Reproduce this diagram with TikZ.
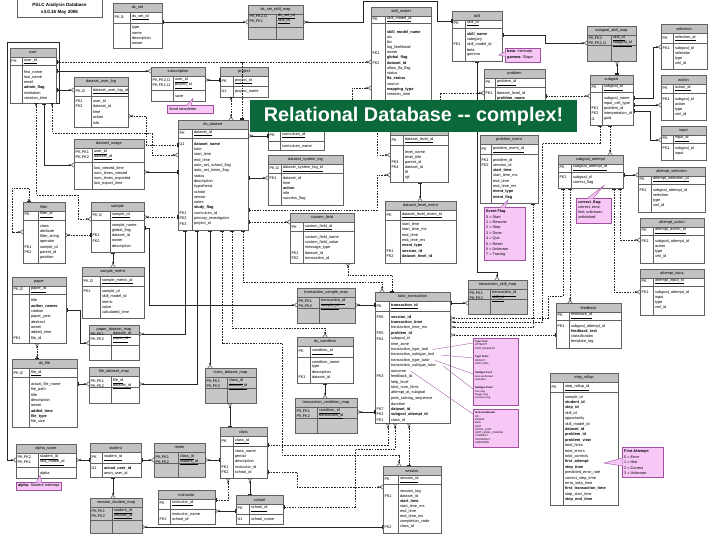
\documentclass[tikz,border=0pt]{standalone}
\usepackage{fontspec}
\setmainfont{Liberation Sans}
\usetikzlibrary{arrows.meta,calc}
\definecolor{hdrg}{gray}{0.76}
\definecolor{mapg}{gray}{0.78}
\definecolor{tlc}{gray}{0.38}
\definecolor{pinkf}{RGB}{247,200,245}
\definecolor{pinkd}{RGB}{160,80,160}
\definecolor{bgreen}{RGB}{10,104,58}
\tikzset{
 tblbody/.style={anchor=north west,inner sep=0pt,outer sep=0pt,draw=none},
 tline/.style={draw=tlc,line width=0.45pt},
 ttl/.style={font=\fontsize{3.9}{4.4}\selectfont,inner sep=0pt},
 txt/.style={font=\fontsize{3.9}{4.4}\selectfont,inner sep=0pt,anchor=west},
 ctxt/.style={font=\fontsize{3.8}{4.2}\selectfont,inner sep=0pt,anchor=west},
 ttxt/.style={font=\fontsize{2.6}{3}\selectfont,inner sep=0pt,anchor=west},
 pinkbox/.style={fill=pinkf,draw=pinkd,line width=0.4pt,anchor=north west,inner sep=0pt},
 conn/.style={draw=black!85,line width=0.4pt},
 dconn/.style={conn,dash pattern=on 1.6pt off 1.1pt},
 onemany/.style={{Bar[width=4pt,sep=0.7pt]Bar[width=4pt]}-{Circle[open,length=2.2pt,width=2.2pt,sep=0.2pt]Straight Barb[reversed,length=2.4pt,width=4.4pt]}},
 zeromany/.style={{Bar[width=4pt,sep=0.5pt]Circle[open,length=2.2pt,width=2.2pt]}-{Circle[open,length=2.2pt,width=2.2pt,sep=0.2pt]Straight Barb[reversed,length=2.4pt,width=4.4pt]}},
 manyone/.style={{Straight Barb[reversed,length=2.4pt,width=4.4pt,sep=0.2pt]Circle[open,length=2.2pt,width=2.2pt]}-{Bar[width=4pt,sep=0.7pt]Bar[width=4pt]}},
 tomany/.style={-{Circle[open,length=2.2pt,width=2.2pt,sep=0.2pt]Straight Barb[reversed,length=2.4pt,width=4.4pt]}},
 fromone/.style={{Bar[width=4pt,sep=0.7pt]Bar[width=4pt]}-},
}
\newcommand\tbl[9]{%
 \def\curx{#2}\def\curk{#6}%
 \node[tblbody,fill=#9,minimum width=#4pt,minimum height=#5pt] (#1) at (#2,#3) {};
 \fill[hdrg] (#2,#3) rectangle ++(#4,9);
 \draw[tline] (#2,#3) rectangle ++(#4,#5);
 \draw[tline] (#2,#3+9) -- ++(#4,0);
 \draw[tline] (#2,#3+#7) -- ++(#4,0);
 \draw[tline] (#2+#6,#3+9) -- (#2+#6,#3+#5);
 \node[ttl] (#1-t) at (#2+#4/2,#3+4.7) {#8};
}
\newcommand\kt[3]{\node[txt] (#1) at (\curx+1.3,#2) {#3};}
\newcommand\fd[3]{\node[txt] (#1) at (\curx+\curk+1.8,#2) {#3};}
\newcommand\rws[4]{\foreach \rowtxt [count=\rowidx from 0] in {#4} {\node[txt] (#1\rowidx) at (\curx+\curk+1.8,#2+\rowidx*#3) {\rowtxt};}}
\newcommand\ptr[3]{\fill[pinkf] #1 -- #2 -- #3 -- cycle; \draw[pinkd,line width=0.4pt] #2 -- #1 -- #3;}
\begin{document}
\begin{tikzpicture}[x=1pt,y=-1pt]
\useasboundingbox (0,0) rectangle (720,540);
\fill[white] (0,0) rectangle (720,540);
% title
\draw[tline] (17,0) -- (17,17) -- (102,17) -- (102,0);
\node[font=\bfseries\fontsize{4.6}{5}\selectfont,inner sep=0pt] (ttl1) at (59.5,5.8) {PSLC Analysis Database};
\node[font=\bfseries\fontsize{4.6}{5}\selectfont,inner sep=0pt] (ttl2) at (59.5,12) {v3.0.16 May 2006};
% ---------- tables ----------
\tbl{dsset}{113}{3}{49}{45}{17}{20}{ds\_set}{white}
\kt{dsset-k}{17.5}{PK,I1}\fd{dsset-p}{17.5}{\underline{ds\_set\_id}}
\rws{dsset-r}{28}{5}{type,name,description,owner}
\tbl{dssetskillmap}{248}{5}{55}{34}{28}{22}{ds\_set\_skill\_map}{mapg}
\kt{dssm-k1}{16}{PK,FK2,I1}\kt{dssm-k2}{21}{PK,FK1}
\fd{dssm-f1}{16}{\underline{ds\_set\_id}}\fd{dssm-f2}{21}{\underline{skill\_id}}
\tbl{skillmodel}{371}{7}{60}{97}{14}{16}{skill\_model}{white}
\kt{sm-k}{19.5}{PK}\fd{sm-p}{19.5}{\underline{skill\_model\_id}}
\rws{sm-r}{32}{5.2}{\textbf{skill\_model\_name},aic,bic,log\_likelihood,owner,\textbf{global\_flag},\textbf{dataset\_id},allow\_lfa\_flag,status,\textbf{lfa\_status},source,\textbf{mapping\_type},creation\_time}
\kt{sm-k1}{52.8}{FK1}\kt{sm-k2}{63.2}{FK2}
\tbl{skill}{452}{11}{50}{50}{13}{17}{skill}{white}
\kt{sk-k}{23.5}{PK}\fd{sk-p}{23.5}{\underline{skill\_id}}
\rws{sk-r}{34}{5.3}{\textbf{skill\_name},category,skill\_model\_id,beta,gamma}
\kt{sk-k1}{44.6}{FK1}
\tbl{problem}{484}{69}{61}{59}{11}{18}{problem}{white}
\kt{pr-k}{82.5}{PK}\fd{pr-p}{82.5}{\underline{problem\_id}}
\rws{pr-r}{93}{5.3}{dataset\_level\_id,\textbf{problem\_name}}
\kt{pr-k1}{93}{FK1}
\tbl{datasetlevel}{390}{126}{58}{56}{13}{19}{dataset\_level}{white}
\kt{dl-k}{140}{PK}\fd{dl-p}{140}{\underline{dataset\_level\_id}}
\rws{dl-r}{152}{5.1}{level\_name,level\_title,parent\_id,dataset\_id,lft,rgt}
\kt{dl-k3}{162.2}{FK3}\kt{dl-k4}{167.3}{FK4}
\tbl{problemevent}{480}{135}{58}{68}{11}{19}{problem\_event}{white}
\kt{pe-k}{149.5}{PK}\fd{pe-p}{149.5}{\underline{problem\_event\_id}}
\rws{pe-r}{160}{5.3}{problem\_id,session\_id,\textbf{start\_time},start\_time\_ms,end\_time,end\_time\_ms,\textbf{event\_type},\textbf{event\_flag}}
\kt{pe-k1}{160}{FK1}\kt{pe-k2}{165.3}{FK2}
\tbl{sgskillmap}{587}{26}{49}{35}{24}{19}{subgoal\_skill\_map}{mapg}
\kt{ssm-k1}{38.5}{PK,FK2}\kt{ssm-k2}{43.5}{PK,FK1,I1}
\fd{ssm-f1}{38.5}{\underline{skill\_id}}\fd{ssm-f2}{43.5}{\underline{subgoal\_id}}
\tbl{selection}{661}{24}{46}{45}{12}{19}{selection}{white}
\kt{sel-k}{38}{PK}\fd{sel-p}{38}{\underline{selection\_id}}
\rws{sel-r}{48}{5.1}{subgoal\_id,selection,type,xml\_id}
\kt{sel-k1}{48}{FK1}
\tbl{subgoal}{590}{75}{43}{50}{12}{17}{subgoal}{white}
\kt{sg-k}{87.5}{PK}\fd{sg-p}{87.5}{\underline{subgoal\_id}}
\rws{sg-r}{98}{5.2}{subgoal\_name,input\_cell\_type,problem\_id,interpretation\_id,guid}
\kt{sg-k1}{108.4}{FK1}\kt{sg-k2}{113.6}{FK2}\kt{sg-k3}{118.8}{I1}
\tbl{action}{661}{75}{45}{45}{12}{18}{action}{white}
\kt{ac-k}{88.5}{PK}\fd{ac-p}{88.5}{\underline{action\_id}}
\rws{ac-r}{99}{5.1}{subgoal\_id,action,type,xml\_id}
\kt{ac-k1}{99}{FK1}
\tbl{input}{661}{126}{45}{34}{12}{17}{input}{white}
\kt{in-k}{138.5}{PK}\fd{in-p}{138.5}{\underline{input\_id}}
\rws{in-r}{148}{5.1}{subgoal\_id,input}
\kt{in-k1}{148}{FK1}
\tbl{subgoalattempt}{558}{155}{65}{33}{13}{17}{subgoal\_attempt}{white}
\kt{sa-k}{167.5}{PK}\fd{sa-p}{167.5}{\underline{subgoal\_attempt\_id}}
\rws{sa-r}{177.5}{5.3}{subgoal\_id,correct\_flag}
\kt{sa-k1}{177.5}{FK1}
\tbl{attemptselection}{638}{167}{67}{45}{13}{17}{attempt\_selection}{white}
\kt{as-k}{179}{PK}\fd{as-p}{179}{\underline{attempt\_selection\_id}}
\rws{as-r}{190}{5.2}{subgoal\_attempt\_id,selection,type,xml\_id}
\kt{as-k1}{190}{FK1}
\tbl{attemptaction}{640}{218}{64}{45}{13}{17}{attempt\_action}{white}
\kt{aa-k}{230.5}{PK}\fd{aa-p}{230.5}{\underline{attempt\_action\_id}}
\rws{aa-r}{241}{5.2}{subgoal\_attempt\_id,action,type,xml\_id}
\kt{aa-k1}{241}{FK1}
\tbl{attemptinput}{640}{269}{64}{46}{13}{17}{attempt\_input}{white}
\kt{ai-k}{281}{PK}\fd{ai-p}{281}{\underline{attempt\_input\_id}}
\rws{ai-r}{292}{5.2}{subgoal\_attempt\_id,input,type,xml\_id}
\kt{ai-k1}{292}{FK1}
\tbl{feedback}{556}{303}{65}{45}{13}{17}{feedback}{white}
\kt{fb-k}{315.5}{PK}\fd{fb-p}{315.5}{\underline{feedback\_id}}
\rws{fb-r}{326}{5.3}{subgoal\_attempt\_id,\textbf{feedback\_text},classification,template\_tag}
\kt{fb-k1}{326}{FK1}
\tbl{steprollup}{550}{373}{68}{132}{13}{19}{step\_rollup}{white}
\kt{sr-k}{387.5}{PK}\fd{sr-p}{387.5}{\underline{step\_rollup\_id}}
\rws{sr-r}{397}{5.4}{sample\_id,\textbf{student\_id},\textbf{step\_id},skill\_id,opportunity,skill\_model\_id,\textbf{dataset\_id},\textbf{problem\_id},\textbf{problem\_view},total\_hints,total\_errors,total\_corrects,\textbf{first\_attempt},\textbf{step\_time},predicted\_error\_rate,correct\_step\_time,error\_step\_time,\textbf{first\_transaction\_time},step\_start\_time,\textbf{step\_end\_time}}
\tbl{user}{10}{48}{46}{55}{12}{17}{user}{white}
\kt{us-k}{61}{PK}\fd{us-p}{61}{\underline{user\_id}}
\rws{us-r}{72}{5.3}{first\_name,last\_name,email,\textbf{admin\_flag},institution,creation\_time}
\tbl{datasetuserlog}{74}{77}{54}{50}{17}{19}{dataset\_user\_log}{white}
\kt{dul-k}{91}{PK,I2}\fd{dul-p}{91}{\underline{dataset\_user\_log\_id}}
\rws{dul-r}{101}{5.5}{user\_id,dataset\_id,time,action,info}
\kt{dul-k1}{101}{FK1}\kt{dul-k2}{106.5}{FK2}
\tbl{datasetusage}{74}{139}{70}{50}{18}{23}{dataset\_usage}{white}
\kt{du-k1}{152}{PK,FK1}\kt{du-k2}{157.5}{PK,FK2}
\fd{du-f1}{152}{\underline{user\_id}}\fd{du-f2}{157.5}{\underline{dataset\_id}}
\rws{du-r}{168}{5.3}{last\_viewed\_time,num\_times\_viewed,num\_times\_exported,last\_export\_time}
\tbl{subscription}{151}{67}{54}{34}{22}{23}{subscription}{white}
\kt{sub-k1}{80.5}{PK,FK2,I1}\kt{sub-k2}{85.5}{PK,FK1,I1}
\fd{sub-f1}{80.5}{\underline{user\_id}}\fd{sub-f2}{85.5}{\underline{project\_id}}
\fd{sub-f3}{96}{save}
\tbl{project}{220}{67}{48}{30}{13}{19}{project}{white}
\kt{pj-k}{81}{PK}\fd{pj-p}{81}{\underline{project\_id}}
\kt{pj-k1}{91.5}{U1}\fd{pj-f1}{91.5}{project\_name}
\tbl{dsdataset}{178}{120}{70}{110}{14}{18}{ds\_dataset}{white}
\kt{dd-k}{133.5}{PK}\fd{dd-p}{133.5}{\underline{dataset\_id}}
\rws{dd-r}{144}{5.33}{\textbf{dataset\_name},tutor,start\_time,end\_time,auto\_set\_school\_flag,auto\_set\_times\_flag,status,description,hypothesis,school,sensor,notes,\textbf{study\_flag},curriculum\_id,primary\_investigator,project\_id}
\kt{dd-k1}{144}{U1}\kt{dd-k2}{213.3}{FK1}\kt{dd-k3}{218.6}{FK2}\kt{dd-k4}{224}{FK3}
\tbl{curriculum}{268}{120}{56}{30}{12}{21}{}{white}
\kt{cu-k}{135.5}{PK}\fd{cu-p}{135.5}{\underline{curriculum\_id}}
\fd{cu-f1}{146}{curriculum\_name}
\tbl{dssystemlog}{268}{155}{75}{50}{13}{18}{dataset\_system\_log}{white}
\kt{dsl-k}{168.5}{PK,I2}\fd{dsl-p}{168.5}{\underline{dataset\_system\_log\_id}}
\rws{dsl-r}{178}{5.1}{dataset\_id,time,\textbf{action},info,success\_flag}
\kt{dsl-k1}{178}{FK1}
\tbl{datasetlevelevent}{385}{201}{71}{62}{15}{19}{dataset\_level\_event}{white}
\kt{dle-k}{215}{PK}\fd{dle-p}{215}{\underline{dataset\_level\_event\_id}}
\rws{dle-r}{224.5}{5.35}{start\_time,start\_time\_ms,end\_time,end\_time\_ms,\textbf{event\_type},\textbf{session\_id},\textbf{dataset\_level\_id}}
\kt{dle-k1}{251.2}{FK1}\kt{dle-k2}{256.6}{FK2}
\tbl{filter}{23}{202}{42}{61}{15}{18}{filter}{white}
\kt{fi-k}{214.5}{PK}\fd{fi-p}{214.5}{\underline{filter\_id}}
\rws{fi-r}{226}{5.3}{class,attribute,filter\_string,operator,sample\_id,parent\_id,position}
\kt{fi-k1}{247.2}{FK1}\kt{fi-k2}{252.5}{FK2}
\tbl{sample}{91}{202}{53}{50}{19}{18}{sample}{white}
\kt{smp-k}{215}{PK,I2}\fd{smp-p}{215}{\underline{sample\_id}}
\rws{smp-r}{225}{5.3}{sample\_name,global\_flag,dataset\_id,owner,description}
\kt{smp-k1}{235.6}{FK1}\kt{smp-k2}{240.9}{FK2}
\tbl{samplemetric}{82}{267}{62}{51}{18}{19}{sample\_metric}{white}
\kt{smm-k}{281}{PK,I2}\fd{smm-p}{281}{\underline{sample\_metric\_id}}
\rws{smm-r}{291}{5.4}{sample\_id,skill\_model\_id,metric,value,calculated\_time}
\kt{smm-k1}{291}{FK1}
\tbl{paper}{12}{277}{54}{66}{17}{17}{paper}{white}
\kt{pa-k}{289.5}{PK,I2}\fd{pa-p}{289.5}{\underline{paper\_id}}
\rws{pa-r}{300.5}{5.4}{title,\textbf{author\_names},citation,paper\_year,abstract,owner,added\_time,file\_id}
\kt{pa-k1}{338.3}{FK1}
\tbl{paperdsmap}{89}{325}{50}{35}{22}{20}{paper\_dataset\_map}{white}
\kt{pdm-k1}{334.5}{PK,FK1}\kt{pdm-k2}{339.5}{PK,FK2}
\fd{pdm-f1}{334.5}{\underline{dataset\_id}}\fd{pdm-f2}{339.5}{\underline{paper\_id}}
\tbl{dsfile}{12}{359}{65}{68}{17}{18}{ds\_file}{white}
\kt{df-k}{373}{PK,I2}\fd{df-p}{373}{\underline{file\_id}}
\rws{df-r}{384}{5.4}{actual\_file\_name,file\_path,title,description,owner,\textbf{added\_time},\textbf{file\_type},file\_size}
\tbl{filedsmap}{89}{367}{50}{36}{22}{20}{file\_dataset\_map}{white}
\kt{fdm-k1}{381}{PK,FK1}\kt{fdm-k2}{386}{PK,FK2}
\fd{fdm-f1}{381}{\underline{file\_id}}\fd{fdm-f2}{386}{\underline{dataset\_id}}
\tbl{alphascore}{16}{444}{60}{34}{22}{23}{alpha\_score}{white}
\kt{al-k1}{457}{PK,FK2}\kt{al-k2}{462.5}{PK,FK1}
\fd{al-f1}{457}{\underline{student\_id}}\fd{al-f2}{462.5}{\underline{skill\_model\_id}}
\fd{al-f3}{473}{alpha}
\tbl{student}{90}{443}{51}{34}{12}{20}{student}{white}
\kt{st-k}{457.5}{PK}\fd{st-p}{457.5}{\underline{student\_id}}
\kt{st-k1}{468}{U1}
\rws{st-r}{468}{5.2}{\textbf{actual\_user\_id},anon\_user\_id}
\tbl{roster}{154}{443}{51}{34}{24}{20}{roster}{mapg}
\kt{ro-k1}{457}{PK,FK1}\kt{ro-k2}{462}{PK,FK2}
\fd{ro-f1}{457}{\underline{class\_id}}\fd{ro-f2}{462}{\underline{student\_id}}
\tbl{sessstudentmap}{90}{498}{52}{35}{22}{22}{session\_student\_map}{mapg}
\kt{ssmp-k1}{511}{PK,FK1}\kt{ssmp-k2}{516}{PK,FK2}
\fd{ssmp-f1}{511}{\underline{student\_id}}\fd{ssmp-f2}{516}{\underline{session\_id}}
\tbl{instructor}{158}{490}{57}{34}{12}{19}{instructor}{white}
\kt{ins-k}{503}{PK}\fd{ins-p}{503}{\underline{instructor\_id}}
\rws{ins-r}{514}{5.3}{instructor\_name,school\_id}
\kt{ins-k1}{519.3}{FK1}
\tbl{school}{236}{495}{47}{29}{13}{19}{school}{white}
\kt{sc-k}{508.5}{PK}\fd{sc-p}{508.5}{\underline{school\_id}}
\kt{sc-k1}{519}{U1}\fd{sc-f1}{519}{school\_name}
\tbl{class}{220}{427}{47}{51}{13}{19}{class}{white}
\kt{cl-k}{441}{PK}\fd{cl-p}{441}{\underline{class\_id}}
\rws{cl-r}{451}{5.4}{class\_name,period,description,instructor\_id,school\_id}
\kt{cl-k1}{467.2}{FK1}\kt{cl-k2}{472.6}{FK2}
\tbl{classdsmap}{205}{368}{51}{35}{22}{20}{class\_dataset\_map}{mapg}
\kt{cdm-k1}{381.5}{PK,FK1}\kt{cdm-k2}{386.5}{PK,FK2}
\fd{cdm-f1}{381.5}{\underline{class\_id}}\fd{cdm-f2}{386.5}{\underline{dataset\_id}}
\tbl{condition}{297}{337}{56}{46}{13}{20}{ds\_condition}{white}
\kt{co-k}{351.5}{PK}\fd{co-p}{351.5}{\underline{condition\_id}}
\rws{co-r}{362}{5.1}{condition\_name,type,description,dataset\_id}
\kt{co-k1}{377.3}{FK1}
\tbl{transcondmap}{295}{398}{62}{35}{22}{20}{transaction\_condition\_map}{mapg}
\kt{tcm-k1}{411}{PK,FK1}\kt{tcm-k2}{416}{PK,FK2}
\fd{tcm-f1}{411}{\underline{condition\_id}}\fd{tcm-f2}{416}{\underline{transaction\_id}}
\tbl{transsamplemap}{297}{288}{58}{35}{22}{20}{transaction\_sample\_map}{mapg}
\kt{tsm-k1}{301.5}{PK,FK1}\kt{tsm-k2}{306.5}{PK,FK2}
\fd{tsm-f1}{301.5}{\underline{transaction\_id}}\fd{tsm-f2}{306.5}{\underline{sample\_id}}
\tbl{customfield}{290}{213}{64}{50}{13}{18}{custom\_field}{white}
\kt{cf-k}{227}{PK}\fd{cf-p}{227}{\underline{custom\_field\_id}}
\rws{cf-r}{237}{5.4}{custom\_field\_name,custom\_field\_value,message\_type,dataset\_id,transaction\_id}
\kt{cf-k1}{253.2}{FK1}\kt{cf-k2}{258.6}{FK2}
\tbl{tutortrans}{375}{292}{75}{131}{14}{19}{tutor\_transaction}{white}
\kt{tt-k}{306}{PK}\fd{tt-p}{306}{\underline{\textbf{transaction\_id}}}
\rws{tt-r}{317}{5.42}{\textbf{session\_id},\textbf{transaction\_time},transaction\_time\_ms,\textbf{problem\_id},subgoal\_id,time\_zone,transaction\_type\_tool,transaction\_subtype\_tool,transaction\_type\_tutor,transaction\_subtype\_tutor,outcome,feedback\_id,help\_level,total\_num\_hints,attempt\_at\_subgoal,prob\_solving\_sequence,duration,\textbf{dataset\_id},\textbf{subgoal\_attempt\_id},class\_id}
\kt{tt-k6}{317}{FK6}\kt{tt-k5}{333.3}{FK5}\kt{tt-k4}{338.7}{FK4}\kt{tt-k3}{376.6}{FK3}\kt{tt-k7}{409.1}{FK7}\kt{tt-k2}{414.6}{FK2}\kt{tt-k1}{420}{FK1}
\tbl{transskillmap}{468}{280}{59}{34}{22}{19}{transaction\_skill\_map}{mapg}
\kt{tkm-k1}{293.5}{PK,FK1}\kt{tkm-k2}{298.5}{PK,FK2}
\fd{tkm-f1}{293.5}{\underline{transaction\_id}}\fd{tkm-f2}{298.5}{\underline{skill\_id}}
\tbl{session}{383}{466}{58}{67}{15}{18}{session}{white}
\kt{se-k}{479.5}{PK}\fd{se-p}{479.5}{\underline{session\_id}}
\rws{se-r}{491}{5.1}{session\_tag,dataset\_id,\textbf{start\_time},start\_time\_ms,end\_time,end\_time\_ms,completion\_code,class\_id}
\kt{se-k1}{496.1}{FK1}\kt{se-k2}{526.7}{FK2}
% ---------- connectors ----------
\draw[conn,onemany] (dsset.east |- 0,22) -- (dssetskillmap.west |- 0,22);
\draw[conn,manyone] (dssetskillmap.east |- 0,22) -- (363,22) -- (363,1.5) -- (437,1.5) -- (437,21) -- (skill.west |- 0,21);
\draw[dconn,zeromany] (user.east |- 0,62) -- (skillmodel.west |- 0,62);
\draw[dconn,fromone] (dsdataset.north -| 242,0) -- (242,62);
\coordinate (free1) at (352,100);
\draw[dconn,tomany] (free1) -- (352,88) -- (skillmodel.west |- 0,88);
\draw[conn,onemany] (user.east |- 0,71) -- (subscription.west |- 0,71);
\draw[conn,zeromany] (user.east |- 0,90) -- (datasetuserlog.west |- 0,90);
\draw[conn,manyone] (subscription.east |- 0,80) -- (project.west |- 0,80);
\draw[dconn,zeromany] (project.south -| 231,0) -- (dsdataset.north -| 231,0);
\draw[conn,manyone] (dsdataset.east |- 0,136) -- (curriculum.west |- 0,136);
\draw[conn,onemany] (dsdataset.east |- 0,178) -- (dssystemlog.west |- 0,178);
\draw[dconn,onemany] (dsdataset.east |- 0,210) -- (377,210) -- (377,175) -- (datasetlevel.west |- 0,175);
\draw[dconn,onemany] (dsdataset.east |- 0,222) -- (customfield.west |- 0,222);
\draw[conn,onemany] (dsdataset.south -| 185,0) -- (185,334) -- (paperdsmap.east |- 0,334);
\draw[conn,onemany] (dsdataset.south -| 197,0) -- (197,384) -- (filedsmap.east |- 0,384);
\draw[conn,onemany] (dsdataset.south -| 210,0) -- (classdsmap.north -| 210,0);
\draw[dconn,onemany] (dsdataset.south -| 222,0) -- (222,343) -- (282,343) -- (282,455) -- (399,455) -- (session.north -| 399,0);
\draw[dconn,onemany] (dsdataset.south -| 232,0) -- (232,328) -- (325,328) -- (condition.north -| 325,0);
\draw[dconn,onemany] (dsdataset.south -| 243,0) -- (243,282) -- (382,282) -- (tutortrans.north -| 382,0);
\draw[dconn,manyone] (sample.east |- 0,217) -- (dsdataset.west |- 0,217);
\draw[dconn,zeromany] (user.south -| 36,0) -- (36,195) -- (78,195) -- (78,219) -- (sample.west |- 0,219);
\draw[conn,onemany] (user.south -| 44,0) -- (44,165) -- (datasetusage.west |- 0,165);
\draw[dconn,zeromany] (user.south -| 52,0) -- (52,133) -- (152,133) -- (152,155) -- (dsdataset.west |- 0,155);
\draw[dconn,manyone] (datasetuserlog.east |- 0,116) -- (146,116) -- (146,145) -- (dsdataset.west |- 0,145);
\draw[conn,manyone] (datasetusage.east |- 0,172) -- (dsdataset.west |- 0,172);
\draw[dconn,zeromany] (filter.north -| 29,0) -- (29,188) -- (12,188) -- (12,232) -- (filter.west |- 0,232);
\draw[dconn,manyone] (filter.east |- 0,235) -- (sample.west |- 0,235);
\draw[conn,onemany] (sample.south -| 113,0) -- (samplemetric.north -| 113,0);
\draw[conn,onemany] (sample.east |- 0,228) -- (149,228) -- (149,305) -- (transsamplemap.west |- 0,305);
\draw[conn,onemany] (paper.east |- 0,310) -- (80,310) -- (80,343) -- (paperdsmap.west |- 0,343);
\draw[dconn,zeromany] (dsfile.north -| 37,0) -- (paper.south -| 37,0);
\draw[conn,onemany] (dsfile.east |- 0,384) -- (filedsmap.west |- 0,384);
\draw[conn,tomany] (user.south east) -- (59,103) -- (59,42) -- (7,42) -- (7,460) -- (alphascore.west |- 0,460);
\draw[conn,onemany] (student.west |- 0,460) -- (alphascore.east |- 0,460);
\draw[conn,onemany] (student.east |- 0,460) -- (roster.west |- 0,460);
\draw[conn,onemany] (student.south -| 113,0) -- (sessstudentmap.north -| 113,0);
\draw[conn,onemany] (session.west |- 0,527) -- (sessstudentmap.east |- 0,527);
\draw[conn,onemany] (class.west |- 0,460) -- (roster.east |- 0,460);
\draw[conn,onemany] (class.north -| 230,0) -- (classdsmap.south -| 230,0);
\draw[dconn,onemany] (instructor.east |- 0,500) -- (228,500) -- (class.south -| 228,0);
\draw[conn,onemany] (school.west |- 0,511) -- (instructor.east |- 0,511);
\draw[conn,onemany] (school.north -| 250,0) -- (class.south -| 250,0);
\draw[dconn,onemany] (class.east |- 0,445) -- (388,445) -- (tutortrans.south -| 388,0);
\draw[dconn,onemany] (school.east |- 0,507) -- (355,507) -- (355,449) -- (395,449) -- (tutortrans.south -| 395,0);
\draw[dconn,onemany] (session.north -| 409,0) -- (tutortrans.south -| 409,0);
\draw[dconn,onemany] (class.east |- 0,472) -- (297,472) -- (297,487) -- (session.west |- 0,487);
\draw[conn,onemany] (condition.south -| 325,0) -- (transcondmap.north -| 325,0);
\draw[conn,manyone] (transcondmap.east |- 0,412) -- (tutortrans.west |- 0,412);
\draw[conn,manyone] (transsamplemap.east |- 0,305) -- (tutortrans.west |- 0,305);
\draw[dconn,manyone] (customfield.south -| 348,0) -- (348,275) -- (392,275) -- (tutortrans.north -| 392,0);
\draw[conn,onemany] (skill.south -| 477,0) -- (477,272) -- (497,272) -- (transskillmap.north -| 497,0);
\draw[conn,onemany] (tutortrans.east |- 0,303) -- (transskillmap.west |- 0,303);
\draw[conn,onemany] (datasetlevel.south -| 420,0) -- (datasetlevelevent.north -| 420,0);
\draw[dconn,onemany] (problem.east |- 0,96) -- (subgoal.west |- 0,96);
\draw[conn,onemany] (subgoal.east |- 0,98) -- (653,98) -- (653,47) -- (selection.west |- 0,47);
\draw[conn,onemany] (subgoal.east |- 0,105) -- (action.west |- 0,105);
\draw[conn,onemany] (subgoal.east |- 0,111) -- (650,111) -- (650,140) -- (input.west |- 0,140);
\draw[conn,onemany] (skill.east |- 0,35) -- (545,35) -- (545,43) -- (sgskillmap.west |- 0,43);
\draw[conn,onemany] (subgoal.north -| 617,0) -- (sgskillmap.south -| 617,0);
\draw[dconn,onemany] (subgoal.south -| 610,0) -- (subgoalattempt.north -| 610,0);
\draw[dconn,onemany] (subgoal.south -| 600,0) -- (600,143) -- (542,143) -- (542,322) -- (tutortrans.east |- 0,322);
\draw[conn,onemany] (subgoalattempt.east |- 0,175) -- (attemptselection.west |- 0,175);
\draw[dconn,onemany] (subgoalattempt.south -| 620,0) -- (620,240) -- (attemptaction.west |- 0,240);
\draw[dconn,onemany] (subgoalattempt.south -| 614,0) -- (614,292) -- (attemptinput.west |- 0,292);
\draw[dconn,onemany] (subgoalattempt.south -| 570,0) -- (feedback.north -| 570,0);
\draw[dconn,onemany] (subgoalattempt.south -| 563,0) -- (563,296) -- (548,296) -- (548,318) -- (tutortrans.east |- 0,318);
\draw[dconn,onemany] (feedback.west |- 0,335) -- (tutortrans.east |- 0,335);
\draw[dconn,onemany] (problemevent.south -| 533,0) -- (533,327) -- (tutortrans.east |- 0,327);
\draw[dconn,onemany] (datasetlevel.north -| 440,0) -- (440,93) -- (problem.west |- 0,93);
\draw[dconn,zeromany] (datasetlevel.north -| 395,0) -- (395,122) -- (377,122) -- (377,155) -- (datasetlevel.west |- 0,155);
% ---------- callouts ----------
\node[pinkbox,minimum width=35pt,minimum height=14pt] (betac) at (505,48) {};
\ptr{(498.5,55)}{(505.6,51.5)}{(505.6,56.5)}
\node[ctxt] (betac1) at (507,51.8) {\textbf{beta}: Intercept};
\node[ctxt] (betac2) at (507,57.6) {\textbf{gamma}: Slope};
\node[pinkbox,minimum width=46pt,minimum height=8pt] (sendc) at (167,105) {};
\ptr{(193,98.5)}{(186,105.6)}{(191,105.6)}
\node[ctxt] (sendc1) at (169,109) {Send newsletter};
\node[pinkbox,minimum width=41pt,minimum height=53pt] (eventc) at (484,207) {};
\ptr{(508,200)}{(500,207.6)}{(505,207.6)}
\foreach \et [count=\ei from 0] in {\textbf{Event Flag},0 = Start,1 = Resume,2 = Stop,3 = Done,4 = Quit,5 = Reset,6 = Unknown,7 = Tracing}
 {\node[ctxt] (ev\ei) at (486,212+\ei*5.3) {\et};}
\node[pinkbox,minimum width=35pt,minimum height=25pt] (correctc) at (576,198) {};
\ptr{(604,185.5)}{(587,198.6)}{(593,198.6)}
\foreach \et [count=\ei from 0] in {\textbf{correct\_flag:},{correct, error,},{hint, unknown,},unfinished}
 {\node[ctxt] (cc\ei) at (578,202.5+\ei*5) {\et};}
\node[pinkbox,minimum width=45pt,minimum height=67pt] (typec) at (473,338) {};
\foreach \et/\ey in {\textbf{Type Tool:}/341.5,ATTEMPT/345,HINT\_REQUEST/348.5,\textbf{Type Tutor:}/357,RESULT/360.5,HINT\_MSG/364,\textbf{Subtype Tool:}/373,tutor-performed/376.5,unknown/380,\textbf{Subtype Tutor:}/388,hint-msg/391.5,buggy-msg/395,success-msg/398.5}
 {\node[ttxt] at (475,\ey) {\et};}
\node[pinkbox,minimum width=45pt,minimum height=38pt] (outc) at (473,409) {};
\foreach \et [count=\ei from 0] in {\textbf{Outcome/Result},OK,ERROR,BUG,HINT,INITIAL\_HINT,HINT\_LEVEL\_CHANGE,CORRECT,INCORRECT,UNKNOWN}
 {\node[ttxt] (oc\ei) at (475,413+\ei*3.3) {\et};}
\draw[pinkd,line width=0.35pt] (433,349.5) -- (typec.west |- 0,343);
\draw[pinkd,line width=0.35pt] (441,355) -- (typec.west |- 0,358);
\draw[pinkd,line width=0.35pt] (435,360.4) -- (typec.west |- 0,374);
\draw[pinkd,line width=0.35pt] (443,365.8) -- (typec.west |- 0,389);
\draw[pinkd,line width=0.35pt] (411,371.2) -- (outc.west |- 0,414);
\node[pinkbox,minimum width=41pt,minimum height=30pt] (firstc) at (622,447) {};
\ptr{(604,463)}{(622.6,458)}{(622.6,466)}
\foreach \et [count=\ei from 0] in {\textbf{First Attempt:},0 = Error,1 = Hint,2 = Correct,3 = Unknown}
 {\node[ctxt] (fa\ei) at (624,451.5+\ei*5.5) {\et};}
\node[pinkbox,minimum width=45pt,minimum height=7.5pt] (alphac) at (16,482) {};
\ptr{(40,475.5)}{(36,482.6)}{(42,482.6)}
\node[ctxt] (alphac1) at (18,485.8) {\textbf{alpha}: Student Intercept};
% ---------- banner ----------
\node[fill=bgreen,minimum width=327pt,minimum height=32pt,anchor=north west,inner sep=0pt] (banner) at (250,100) {};
\node[font=\bfseries\fontsize{19.8}{22}\selectfont,text=white,inner sep=0pt] (bannertext) at (413.5,116.5) {Relational Database -{}- complex!};
\end{tikzpicture}
\end{document}
